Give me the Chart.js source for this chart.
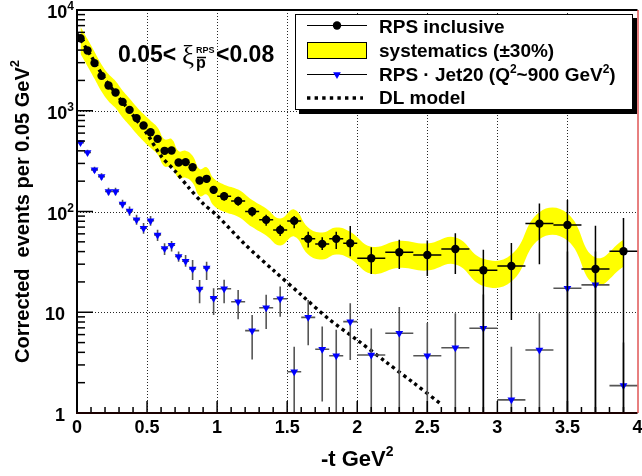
<!DOCTYPE html>
<html>
<head>
<meta charset="utf-8">
<script src="https://cdn.jsdelivr.net/npm/chart.js@4.4.1/dist/chart.umd.min.js"></script>
<style>
  html, body { margin: 0; padding: 0; background: #fff; }
  #wrap { width: 642px; height: 476px; }
</style>
</head>
<body>
<div id="wrap"><canvas id="tplot" width="642" height="476"></canvas></div>
<script>
// bin centres in -t (GeV^2) and their half widths
const tCenters = [0.025, 0.075, 0.125, 0.175, 0.225, 0.275, 0.325, 0.375, 0.425, 0.475,
                  0.525, 0.575, 0.625, 0.675, 0.725, 0.775, 0.825, 0.875, 0.925, 0.975,
                  1.05, 1.15, 1.25, 1.35, 1.45, 1.55, 1.65, 1.75, 1.85, 1.95,
                  2.1, 2.3, 2.5, 2.7, 2.9, 3.1, 3.3, 3.5, 3.7, 3.9];
const tHalf = [0.025, 0.025, 0.025, 0.025, 0.025, 0.025, 0.025, 0.025, 0.025, 0.025,
               0.025, 0.025, 0.025, 0.025, 0.025, 0.025, 0.025, 0.025, 0.025, 0.025,
               0.05, 0.05, 0.05, 0.05, 0.05, 0.05, 0.05, 0.05, 0.05, 0.05,
               0.1, 0.1, 0.1, 0.1, 0.1, 0.1, 0.1, 0.1, 0.1, 0.1];

// RPS inclusive: values and upper / lower ends of the error bars
const incValues = [5250, 3960, 2970, 2220, 1780, 1520, 1225, 1020, 845, 713,
                   613, 526, 400, 403, 306, 309, 275, 203, 211, 164,
                   142, 127, 100, 82.6, 65.6, 80.7, 53.5, 47.7, 53.5, 48.4,
                   34.4, 39.4, 37, 42.5, 26.1, 28.8, 75.8, 73.6, 26.9, 40.3];
const incHigh = [5400, 4080, 3070, 2300, 1850, 1580, 1280, 1070, 890, 752,
                 648, 558, 427, 430, 328, 332, 296, 220, 229, 179,
                 156, 140, 111, 93, 74, 90, 63, 55.6, 63, 71.7,
                 44.2, 52.4, 51.5, 60.8, 41.7, 48.6, 120, 130, 72, 86];
const incLow = [5100, 3840, 2870, 2140, 1710, 1460, 1170, 970, 800, 674,
                578, 494, 373, 376, 284, 286, 254, 186, 193, 149,
                128, 114, 89, 72, 57, 68, 44, 41.5, 42.4, 36,
                24, 26.8, 22.9, 24, 0.5, 8.4, 30, 0.5, 0.5, 0.5];

// RPS · Jet20
const jetValues = [483, 385, 259, 222, 158, 158, 119, 101, 83, 68.3,
                   81, 58.6, 42.9, 46.3, 35.7, 32.1, 26.9, 17, 27.5, 13.8,
                   17.1, 12.7, 6.57, 11.1, 13.6, 2.57, 8.9, 4.3, 3.7, 8.07,
                   3.77, 6.19, 3.7, 4.45, 6.94, 1.35, 4.22, 17.3, 18.7, 1.87];
const jetHigh = [510, 410, 278, 240, 172, 172, 131, 112, 93, 77,
                 90, 66, 48.5, 51, 40, 37, 33, 20.9, 31.8, 17.3,
                 21, 16.6, 9.4, 14.9, 18, 4.55, 13.2, 7.2, 6.7, 12.3,
                 6.9, 11.3, 7.8, 9.8, 15, 4.55, 9.8, 40, 40, 5];
const jetLow = [456, 362, 241, 205, 145, 145, 108, 91, 74, 60,
                72, 51, 37, 40, 31.8, 28.3, 20.9, 12.3, 20.9, 9.4,
                12.3, 8.5, 3.4, 6.8, 9, 0.5, 4.7, 1.3, 0.5, 3.36,
                0.5, 0.5, 0.5, 0.5, 0.5, 0.5, 0.5, 0.5, 0.5, 0.5];

// DL model curve
const dlT = [0.0, 0.1, 0.2, 0.3, 0.4, 0.5, 0.6, 0.7, 0.8, 0.9, 1.0,
             1.2, 1.4, 1.6, 1.8, 2.0, 2.2, 2.4, 2.6];
const dlValues = [5800, 3500, 2050, 1350, 900, 590, 355, 252, 171, 120, 91,
                  47, 26.2, 14.9, 8.5, 5.3, 3.25, 2.0, 1.22];

// systematic band, +-30%
const sysFraction = 0.30;

const xTicks = [0, 0.5, 1, 1.5, 2, 2.5, 3, 3.5, 4];
const xTickLabels = ['0', '0.5', '1', '1.5', '2', '2.5', '3', '3.5', '4'];
const yDecades = [1, 10, 100, 1000, 10000];
const yTickLabels = [['1', ''], ['10', ''], ['10', '2'], ['10', '3'], ['10', '4']];

const SANS = '"Liberation Sans", Arial, Helvetica, sans-serif';
const fnt = (size, weight = 'bold', family = SANS) => `${weight} ${size}px ${family}`;

// draws a row of text pieces [text, size, dy, family, weight]
function drawRuns(ctx, runs, x, y, align) {
  let total = 0;
  const parts = runs.map(r => {
    ctx.font = fnt(r[1], r[4] || 'bold', r[3] || SANS);
    const w = ctx.measureText(r[0]).width;
    total += w;
    return { text: r[0], font: ctx.font, w, dy: r[2] || 0 };
  });
  let cx = align === 'center' ? x - total / 2 : align === 'right' ? x - total : x;
  ctx.textAlign = 'left';
  ctx.textBaseline = 'alphabetic';
  parts.forEach(p => {
    ctx.font = p.font;
    ctx.fillText(p.text, cx, y + p.dy);
    cx += p.w;
  });
}

function seg(ctx, x1, y1, x2, y2) {
  ctx.beginPath();
  ctx.moveTo(x1, y1);
  ctx.lineTo(x2, y2);
  ctx.stroke();
}

// error bars, drawn just under each marker dataset
const errorBars = {
  id: 'errorBars',
  beforeDatasetDraw(chart, args) {
    const ds = chart.data.datasets[args.index];
    if (!ds.errHigh) return;
    const { ctx, chartArea: a, scales: { x, y } } = chart;
    ctx.save();
    ctx.beginPath();
    ctx.rect(a.left, a.top, a.right - a.left, a.bottom - a.top);
    ctx.clip();
    ctx.strokeStyle = ds.errColor;
    ctx.lineWidth = ds.errWidth;
    ds.data.forEach((p, i) => {
      const px = x.getPixelForValue(p.x);
      const py = y.getPixelForValue(p.y);
      seg(ctx, px, y.getPixelForValue(ds.errHigh[i]), px, y.getPixelForValue(ds.errLow[i]));
      seg(ctx, x.getPixelForValue(p.x - ds.errX[i]), py, x.getPixelForValue(p.x + ds.errX[i]), py);
    });
    ctx.restore();
  }
};

// ROOT style frame: dotted grid, inner ticks, labels, titles
const frame = {
  id: 'frame',
  beforeDatasetsDraw(chart) {
    const { ctx, chartArea: a, scales: { x, y } } = chart;
    ctx.save();
    ctx.strokeStyle = 'rgba(0,0,0,0.85)';
    ctx.lineWidth = 1;
    ctx.setLineDash([1, 2]);
    xTicks.forEach(v => {
      if (v <= x.min || v >= x.max) return;
      const px = Math.round(x.getPixelForValue(v)) + 0.5;
      seg(ctx, px, a.top, px, a.bottom);
    });
    yDecades.forEach(v => {
      if (v <= y.min || v >= y.max) return;
      const py = Math.round(y.getPixelForValue(v)) + 0.5;
      seg(ctx, a.left, py, a.right, py);
    });
    ctx.restore();
  },
  afterDatasetsDraw(chart) {
    const { ctx, chartArea: a, scales: { x, y } } = chart;
    ctx.save();
    ctx.strokeStyle = '#000';
    ctx.lineWidth = 1.5;
    // x ticks every 0.1, long ones on the labelled values
    for (let k = 1; k < 40; k++) {
      const v = k / 10;
      const px = x.getPixelForValue(v);
      const len = k % 5 === 0 ? 12 : 6;
      seg(ctx, px, a.bottom, px, a.bottom - len);
    }
    // y ticks: decades and 2..9 in between
    yDecades.forEach(d => {
      for (let m = 1; m <= 9; m++) {
        const v = d * m;
        if (v <= y.min || v >= y.max) continue;
        const py = y.getPixelForValue(v);
        seg(ctx, a.left, py, a.left + (m === 1 ? 16 : 8), py);
      }
    });
    // frame
    ctx.lineWidth = 2;
    ctx.strokeStyle = '#000';
    seg(ctx, a.left, a.top, a.right, a.top);
    seg(ctx, a.left, a.top - 1, a.left, a.bottom + 1);
    ctx.strokeStyle = '#1a0000';
    seg(ctx, a.left - 1, a.bottom, a.right, a.bottom);
    ctx.lineWidth = 1;
    ctx.strokeStyle = '#d00000';
    seg(ctx, a.right + 0.5, a.top, a.right + 0.5, a.bottom);

    ctx.fillStyle = '#000';
    // tick labels
    xTicks.forEach((v, i) => {
      drawRuns(ctx, [[xTickLabels[i], 18]], x.getPixelForValue(v), a.bottom + 20, 'center');
    });
    yDecades.forEach((v, i) => {
      const py = y.getPixelForValue(v);
      const [base, sup] = yTickLabels[i];
      if (sup) {
        drawRuns(ctx, [[base, 18], [sup, 12, -8]], a.left - 3, py + 8, 'right');
      } else {
        drawRuns(ctx, [[base, 18]], a.left - 12, py + 8, 'right');
      }
    });
    // axis titles
    drawRuns(ctx, [['-t GeV', 22], ['2', 14, -10]], (a.left + a.right) / 2, 466, 'center');
    ctx.save();
    ctx.translate(29, (a.top + a.bottom) / 2);
    ctx.rotate(-Math.PI / 2);
    drawRuns(ctx, [['Corrected  events per 0.05 GeV', 20], ['2', 13, -10]], 0, 0, 'center');
    ctx.restore();
    ctx.restore();
  }
};

// legend box and the xi range label
const panel = {
  id: 'panel',
  afterDraw(chart) {
    const { ctx } = chart;
    ctx.save();
    // shadow + box
    ctx.fillStyle = '#000';
    ctx.fillRect(299, 18, 338, 96);
    ctx.fillStyle = '#fff';
    ctx.fillRect(295, 14, 338, 96);
    ctx.strokeStyle = '#000';
    ctx.lineWidth = 1;
    ctx.strokeRect(295.5, 14.5, 337, 95);

    const x0 = 307, x1 = 367, xm = 337, tx = 379;
    // RPS inclusive
    seg(ctx, x0, 25.5, x1, 25.5);
    ctx.fillStyle = '#000';
    ctx.beginPath();
    ctx.arc(xm, 25.5, 4.2, 0, Math.PI * 2);
    ctx.fill();
    // systematics
    ctx.fillStyle = '#ffff00';
    ctx.fillRect(x0, 42, x1 - x0, 17);
    ctx.strokeRect(x0 + 0.5, 42.5, x1 - x0 - 1, 16);
    // RPS . Jet20
    ctx.strokeStyle = '#000';
    seg(ctx, x0, 74.5, x1, 74.5);
    ctx.fillStyle = '#0000ff';
    Chart.helpers.drawPoint(ctx, { pointStyle: 'triangle', rotation: 180, radius: 4.5, borderWidth: 0 }, xm, 74.5);
    // DL model
    ctx.strokeStyle = '#000';
    ctx.lineWidth = 3.4;
    ctx.setLineDash([3.4, 4.2]);
    seg(ctx, x0, 98, x1 - 4, 98);
    ctx.setLineDash([]);

    ctx.fillStyle = '#000';
    drawRuns(ctx, [['RPS inclusive', 19]], tx, 33, 'left');
    drawRuns(ctx, [['systematics (\u00b130%)', 19]], tx, 57, 'left');
    drawRuns(ctx, [['RPS \u00b7 Jet20 (Q', 19], ['2', 12, -8], ['~900 GeV', 19], ['2', 12, -8], [')', 19]], tx, 81, 'left');
    drawRuns(ctx, [['DL model', 19]], tx, 104, 'left');

    // 0.05 < xi < 0.08
    drawRuns(ctx, [['0.05<', 23]], 118, 62, 'left');
    drawRuns(ctx, [['\u03be', 27, 0, '"Liberation Serif", "DejaVu Serif", serif', 'normal']], 182, 64, 'left');
    drawRuns(ctx, [['RPS', 9]], 196, 53, 'left');
    drawRuns(ctx, [['p', 16]], 196, 68, 'left');
    ctx.lineWidth = 1.5;
    seg(ctx, 197, 57.5, 206, 57.5);
    drawRuns(ctx, [['<0.08', 23]], 216, 62, 'left');
    ctx.restore();
  }
};

const incPoints = tCenters.map((t, i) => ({ x: t, y: incValues[i] }));
const jetPoints = tCenters.map((t, i) => ({ x: t, y: jetValues[i] }));
const bandHigh = tCenters.map((t, i) => ({ x: t, y: incValues[i] * (1 + sysFraction) }));
const bandLow = tCenters.map((t, i) => ({ x: t, y: incValues[i] * (1 - sysFraction) }));
const dlPoints = dlT.map((t, i) => ({ x: t, y: dlValues[i] }));

new Chart(document.getElementById('tplot'), {
  type: 'scatter',
  data: {
    datasets: [
      {
        label: 'systematics',
        type: 'line',
        data: bandHigh,
        borderWidth: 0,
        borderColor: 'rgba(0,0,0,0)',
        backgroundColor: '#ffff00',
        pointRadius: 0,
        tension: 0.45,
        fill: '+1',
        order: 10
      },
      {
        label: 'systematics low',
        type: 'line',
        data: bandLow,
        borderWidth: 0,
        borderColor: 'rgba(0,0,0,0)',
        pointRadius: 0,
        tension: 0.45,
        fill: false,
        order: 11
      },
      {
        label: 'DL model',
        type: 'line',
        data: dlPoints,
        borderColor: '#000',
        borderWidth: 3.4,
        borderDash: [3.4, 3.6],
        pointRadius: 0,
        tension: 0.3,
        fill: false,
        order: 5
      },
      {
        label: 'RPS \u00b7 Jet20',
        data: jetPoints,
        pointStyle: 'triangle',
        pointRotation: 180,
        pointRadius: 4.5,
        pointBorderWidth: 0,
        pointBackgroundColor: '#0000ff',
        errHigh: jetHigh,
        errLow: jetLow,
        errX: tHalf,
        errColor: '#555555',
        errWidth: 1.6,
        order: 2
      },
      {
        label: 'RPS inclusive',
        data: incPoints,
        pointRadius: 4.2,
        pointBorderWidth: 0,
        pointBackgroundColor: '#000',
        errHigh: incHigh,
        errLow: incLow,
        errX: tHalf,
        errColor: '#000',
        errWidth: 1.5,
        order: 1
      }
    ]
  },
  options: {
    responsive: false,
    devicePixelRatio: 1,
    animation: false,
    layout: { padding: { left: 0, right: 2, top: 10, bottom: 0 } },
    plugins: {
      legend: { display: false },
      tooltip: { enabled: false }
    },
    scales: {
      x: {
        type: 'linear',
        min: 0,
        max: 4,
        grid: { display: false },
        border: { display: false },
        ticks: { display: false },
        afterFit: s => { s.height = 63; }
      },
      y: {
        type: 'logarithmic',
        min: 1,
        max: 10000,
        grid: { display: false },
        border: { display: false },
        ticks: { display: false },
        afterFit: s => { s.width = 77; }
      }
    }
  },
  plugins: [errorBars, frame, panel]
});
</script>
</body>
</html>
